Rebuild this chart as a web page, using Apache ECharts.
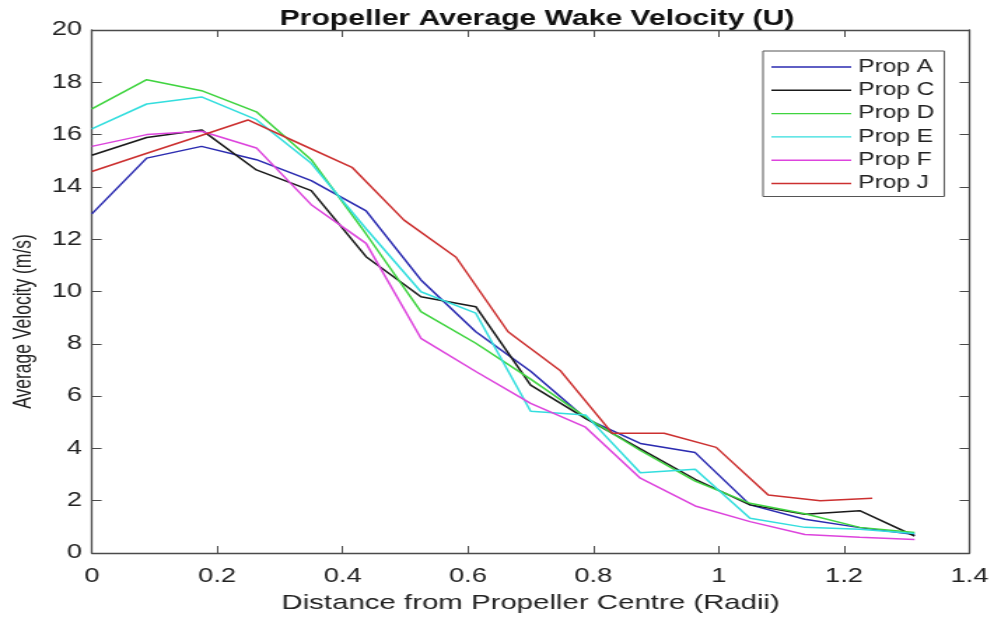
<!DOCTYPE html>
<html>
<head>
<meta charset="utf-8">
<script src="https://cdn.jsdelivr.net/npm/echarts@6/dist/echarts.min.js"></script>
<style>
html,body{margin:0;padding:0;background:#fff;overflow:hidden;}
#chart{width:708.571px;height:619px;transform:scaleX(1.4);transform-origin:0 0;}
</style>
</head>
<body>
<div id="chart"></div>
<script>
// x positions (radii)
const xStd = [0, 0.0875, 0.175, 0.2625, 0.35, 0.4375, 0.525, 0.6125, 0.7, 0.7875, 0.875, 0.9625, 1.05, 1.1375, 1.225, 1.3125];
const xJ   = [0, 0.083, 0.166, 0.249, 0.332, 0.415, 0.498, 0.581, 0.664, 0.747, 0.83, 0.913, 0.996, 1.079, 1.162, 1.245];

// average velocity (m/s)
const propA = [12.97, 15.10, 15.55, 15.04, 14.24, 13.08, 10.44, 8.46, 6.95, 5.15, 4.19, 3.84, 1.84, 1.29, 0.97, 0.71];
const propC = [15.21, 15.89, 16.18, 14.65, 13.86, 11.33, 9.80, 9.42, 6.42, 5.15, 3.98, 2.82, 1.84, 1.48, 1.62, 0.65];
const propD = [16.98, 18.10, 17.68, 16.87, 15.04, 12.20, 9.23, 8.02, 6.65, 5.20, 3.92, 2.75, 1.90, 1.50, 0.98, 0.78];
const propE = [16.22, 17.17, 17.44, 16.57, 14.90, 12.40, 9.99, 9.17, 5.42, 5.28, 3.07, 3.20, 1.33, 0.98, 0.91, 0.75];
const propF = [15.55, 16.00, 16.13, 15.49, 13.32, 11.84, 8.21, 6.94, 5.72, 4.81, 2.86, 1.80, 1.20, 0.71, 0.60, 0.52];
const propJ = [14.59, 15.25, 15.90, 16.56, 15.65, 14.75, 12.73, 11.31, 8.46, 6.98, 4.58, 4.58, 4.04, 2.22, 2.00, 2.09];

const names = ['Prop A', 'Prop C', 'Prop D', 'Prop E', 'Prop F', 'Prop J'];
const colors = ['#2a2ab0', '#1a1a1a', '#3fd43f', '#33dede', '#dd44dd', '#cc3030'];

const xTicks = { min: 0, max: 1.4, interval: 0.2 };
const yTicks = { min: 0, max: 20, interval: 2 };

function pairs(xs, ys) { return xs.map((x, i) => [x, ys[i]]); }
const seriesData = [
  pairs(xStd, propA), pairs(xStd, propC), pairs(xStd, propD),
  pairs(xStd, propE), pairs(xStd, propF), pairs(xJ, propJ)
];

const axisColor = '#4a4a4a';
const textColor = '#222';
const font = 'Liberation Sans, Arial, Helvetica, sans-serif';

const chart = echarts.init(document.getElementById('chart'), null, { renderer: 'canvas' });
chart.setOption({
  animation: false,
  backgroundColor: '#fff',
  title: {
    text: 'Propeller Average Wake Velocity (U)',
    left: 378.6, top: 3, textAlign: 'center',
    textStyle: { fontFamily: font, fontSize: 21.5, fontWeight: 'bold', color: '#111' }
  },
  grid: { left: 65, right: 16.43, top: 30, bottom: 66, containLabel: false },
  legend: {
    orient: 'vertical', left: 545, top: 51,
    padding: [7, 7, 4, 6],
    borderColor: '#555', borderWidth: 1, backgroundColor: '#fff',
    icon: 'rect',
    itemWidth: 57, itemHeight: 1.4, itemGap: 5.3,
    textStyle: { fontFamily: font, fontSize: 17.5, lineHeight: 18, color: textColor },
    data: names
  },
  xAxis: [{
    type: 'value', min: xTicks.min, max: xTicks.max, interval: xTicks.interval,
    name: 'Distance from Propeller Centre (Radii)', nameLocation: 'middle', nameGap: 40,
    nameTextStyle: { fontFamily: font, fontSize: 21, color: textColor },
    axisLine: { show: true, onZero: false, lineStyle: { color: axisColor, width: 1.3 } },
    axisTick: { show: true, inside: true, length: 7, lineStyle: { color: axisColor } },
    axisLabel: { margin: 14, fontFamily: font, fontSize: 19.5, color: textColor },
    splitLine: { show: false }
  }, {
    type: 'value', position: 'top', min: xTicks.min, max: xTicks.max, interval: xTicks.interval,
    axisLine: { show: true, onZero: false, lineStyle: { color: axisColor, width: 1.3 } },
    axisTick: { show: true, inside: true, length: 7, lineStyle: { color: axisColor } },
    axisLabel: { show: false }, splitLine: { show: false }
  }],
  yAxis: [{
    type: 'value', min: yTicks.min, max: yTicks.max, interval: yTicks.interval,
    name: 'Average Velocity (m/s)', nameLocation: 'middle', nameGap: 39,
    nameTextStyle: { fontFamily: font, fontSize: 17.5, color: textColor, padding: [0, 60, 0, 0] },
    axisLine: { show: true, onZero: false, lineStyle: { color: axisColor, width: 1.3 } },
    axisTick: { show: true, inside: true, length: 7, lineStyle: { color: axisColor } },
    axisLabel: { margin: 7, fontFamily: font, fontSize: 19.5, color: textColor },
    splitLine: { show: false }
  }, {
    type: 'value', position: 'right', min: yTicks.min, max: yTicks.max, interval: yTicks.interval,
    axisLine: { show: true, onZero: false, lineStyle: { color: axisColor, width: 1.3 } },
    axisTick: { show: true, inside: true, length: 7, lineStyle: { color: axisColor } },
    axisLabel: { show: false }, splitLine: { show: false }
  }],
  series: names.map((n, i) => ({
    name: n, type: 'line', data: seriesData[i],
    xAxisIndex: 0, yAxisIndex: 0,
    symbol: 'none', showSymbol: false,
    lineStyle: { color: colors[i], width: 1.5 },
    itemStyle: { color: colors[i] }
  }))
});
</script>
</body>
</html>
